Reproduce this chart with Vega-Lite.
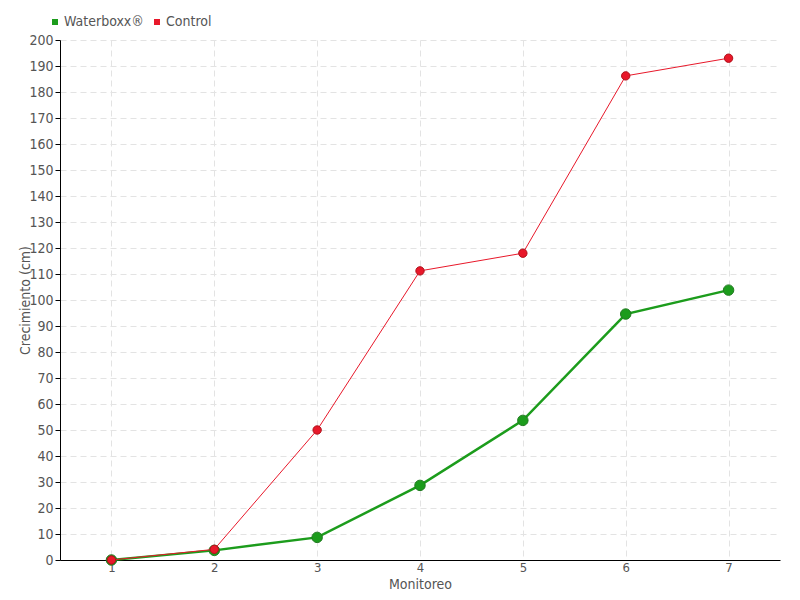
{
  "$schema": "https://vega.github.io/schema/vega-lite/v6.json",
  "width": 720,
  "height": 520,
  "autosize": {"type": "none"},
  "padding": {"left": 60, "top": 40, "right": 20, "bottom": 40},
  "background": "white",
  "config": {
    "font": "DejaVu Sans Condensed, Roboto, sans-serif",
    "view": {"stroke": null},
    "axis": {
      "labelFont": "DejaVu Sans Condensed, Roboto, sans-serif",
      "titleFont": "DejaVu Sans Condensed, Roboto, sans-serif",
      "labelFontSize": 14,
      "titleFontSize": 14,
      "labelColor": "#555555",
      "titleColor": "#555555",
      "titleFontWeight": "normal",
      "domainColor": "#000000",
      "tickColor": "#000000",
      "gridColor": "#e3e3e3",
      "gridDash": [6, 4]
    },
    "legend": {
      "labelFont": "DejaVu Sans Condensed, Roboto, sans-serif",
      "labelFontSize": 14,
      "labelColor": "#555555"
    }
  },
  "data": {
    "values": [
      {"monitoreo": 1, "valor": 0, "serie": "Waterboxx®"},
      {"monitoreo": 2, "valor": 3.7, "serie": "Waterboxx®"},
      {"monitoreo": 3, "valor": 8.7, "serie": "Waterboxx®"},
      {"monitoreo": 4, "valor": 28.7, "serie": "Waterboxx®"},
      {"monitoreo": 5, "valor": 53.7, "serie": "Waterboxx®"},
      {"monitoreo": 6, "valor": 94.6, "serie": "Waterboxx®"},
      {"monitoreo": 7, "valor": 103.8, "serie": "Waterboxx®"},
      {"monitoreo": 1, "valor": 0, "serie": "Control"},
      {"monitoreo": 2, "valor": 4.1, "serie": "Control"},
      {"monitoreo": 3, "valor": 50, "serie": "Control"},
      {"monitoreo": 4, "valor": 111.2, "serie": "Control"},
      {"monitoreo": 5, "valor": 118, "serie": "Control"},
      {"monitoreo": 6, "valor": 186.2, "serie": "Control"},
      {"monitoreo": 7, "valor": 193, "serie": "Control"}
    ]
  },
  "encoding": {
    "x": {
      "field": "monitoreo",
      "type": "quantitative",
      "title": "Monitoreo",
      "scale": {"domain": [0.5, 7.5], "nice": false, "zero": false},
      "axis": {"values": [1, 2, 3, 4, 5, 6, 7], "format": "d", "ticks": false, "labelPadding": 1, "labelFontSize": 13, "titleY": 17, "titleBaseline": "top"}
    },
    "y": {
      "field": "valor",
      "type": "quantitative",
      "title": "Crecimiento (cm)",
      "scale": {"domain": [0, 200], "nice": false},
      "axis": {"values": [0,10,20,30,40,50,60,70,80,90,100,110,120,130,140,150,160,170,180,190,200], "tickSize": 5, "labelPadding": 2, "titleX": -28}
    },
    "color": {
      "field": "serie",
      "type": "nominal",
      "scale": {"domain": ["Waterboxx®", "Control"], "range": ["#1c9c1c", "#e8182a"]},
      "legend": {
        "title": null,
        "orient": "none",
        "legendX": -12,
        "legendY": -25,
        "direction": "horizontal",
        "symbolType": "square",
        "symbolSize": 36,
        "symbolStrokeWidth": 0,
        "columnPadding": 6,
        "labelOffset": 2
      }
    }
  },
  "layer": [
    {
      "transform": [{"filter": "datum.serie === 'Waterboxx®'"}],
      "mark": {"type": "line", "strokeWidth": 2.5}
    },
    {
      "transform": [{"filter": "datum.serie === 'Waterboxx®'"}],
      "mark": {"type": "point", "filled": true, "size": 110, "stroke": "#217a21", "strokeWidth": 1, "opacity": 1}
    },
    {
      "transform": [{"filter": "datum.serie === 'Control'"}],
      "mark": {"type": "line", "strokeWidth": 1, "color": "#f5505e"}
    },
    {
      "transform": [{"filter": "datum.serie === 'Control'"}],
      "mark": {"type": "point", "filled": true, "size": 70, "stroke": "#b0101a", "strokeWidth": 1, "opacity": 1}
    }
  ]
}
